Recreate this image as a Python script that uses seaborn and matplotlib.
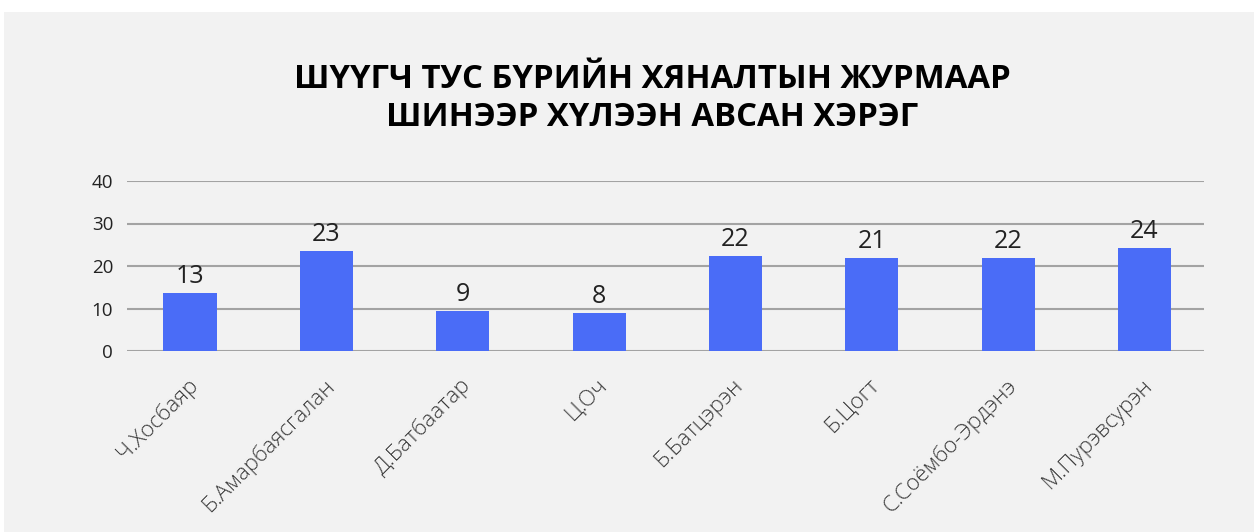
import matplotlib

matplotlib.use("Agg")
import matplotlib.pyplot as plt
import matplotlib.transforms as mtransforms
from matplotlib.patches import Rectangle
import seaborn as sns
import pandas as pd

# judges and the number of new cases each took on
judges = [
    "Ч.Хосбаяр",
    "Б.Амарбаясгалан",
    "Д.Батбаатар",
    "Ц.Оч",
    "Б.Батцэрэн",
    "Б.Цогт",
    "С.Соёмбо-Эрдэнэ",
    "М.Пурэвсурэн",
]
# bar heights as drawn in the picture
bar_heights = [13.7, 23.5, 9.4, 8.9, 22.35, 22.0, 22.0, 24.3]
# numbers printed above the bars
bar_labels = [13, 23, 9, 8, 22, 21, 22, 24]
y_ticks = [0, 10, 20, 30, 40]

title = "ШҮҮГЧ ТУС БҮРИЙН ХЯНАЛТЫН ЖУРМААР\nШИНЭЭР ХҮЛЭЭН АВСАН ХЭРЭГ"

BG = "#f2f2f2"
BAR = "#4a6cf7"
GRID = "#a3a3a3"
TEXT = "#222222"


def main():
    sns.set_style("white")
    plt.rcParams["font.family"] = ["Open Sans", "DejaVu Sans"]

    df = pd.DataFrame({"judge": judges, "cases": bar_heights})

    fig = plt.figure(figsize=(12.54, 5.32), dpi=100, facecolor="white")
    # grey card behind the chart
    fig.patches.append(
        Rectangle((4 / 1254, 0), 1, 1 - 12 / 532, transform=fig.transFigure,
                  facecolor=BG, edgecolor="none", zorder=-5)
    )

    ax = fig.add_axes([127 / 1254, 1 - 351 / 532, (1204 - 127) / 1254, 170 / 532])
    ax.set_facecolor(BG)
    ax.set_zorder(2)

    sns.barplot(data=df, x="judge", y="cases", color=BAR, width=0.39,
                saturation=1, linewidth=0, ax=ax, zorder=3)

    ax.set_ylim(0, 40)
    ax.set_yticks(y_ticks)
    ax.set_xlim(-0.462, 7.436)
    ax.grid(axis="y", color=GRID, linewidth=1.5, zorder=0)
    ax.set_axisbelow(True)
    sns.despine(ax=ax, left=True, bottom=True)
    ax.set_xlabel("")
    ax.set_ylabel("")

    ax.tick_params(axis="y", length=0, pad=10, labelsize=13.5, labelcolor=TEXT)
    ax.tick_params(axis="x", length=0, pad=0, labelsize=16, labelcolor="#3a3a3a")
    shift = mtransforms.ScaledTranslation(0.05, -0.31, fig.dpi_scale_trans)
    for lbl in ax.get_xticklabels():
        lbl.set_rotation(45)
        lbl.set_ha("right")
        lbl.set_va("center")
        lbl.set_rotation_mode("anchor")
        lbl.set_fontweight("light")
        lbl.set_transform(lbl.get_transform() + shift)

    for i, (h, lab) in enumerate(zip(bar_heights, bar_labels)):
        ax.text(i, h + 0.9, str(lab), ha="center", va="bottom",
                fontsize=18, color=TEXT)

    fig.text(652 / 1254, 1 - 98 / 532, title, ha="center", va="center",
             fontsize=23.7, fontweight="bold", color="black", linespacing=1.2,
             zorder=5)

    fig.savefig("out.png", dpi=100, facecolor=fig.get_facecolor())


if __name__ == "__main__":
    main()
